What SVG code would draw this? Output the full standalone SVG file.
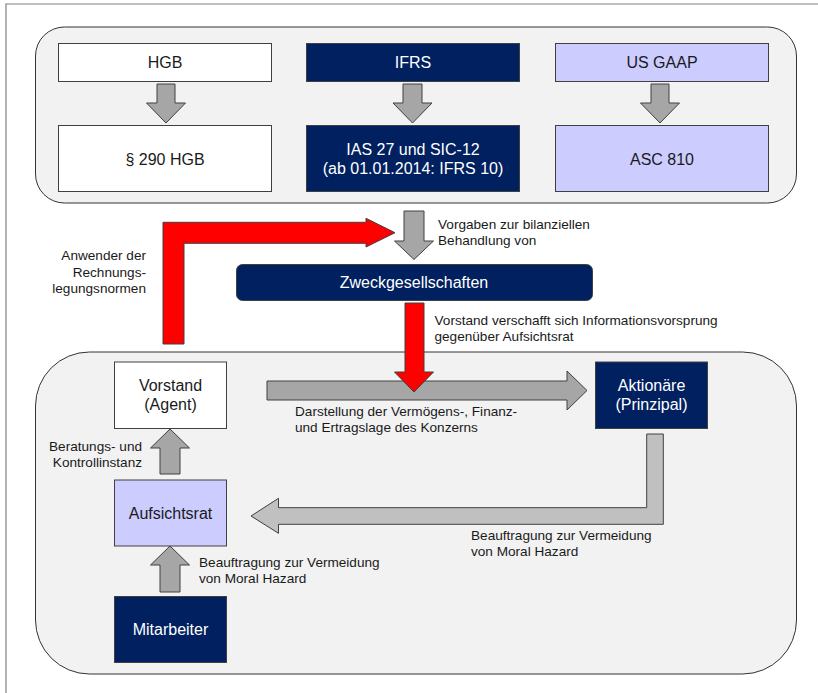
<svg xmlns="http://www.w3.org/2000/svg" width="818" height="693" viewBox="0 0 818 693">
<style>
  .frame{fill:none;stroke:#808080;stroke-width:1.2}
  .cont{fill:#f2f2f2;stroke:#333;stroke-width:1}
  .box{stroke:#404040;stroke-width:1}
  .white{fill:#ffffff}
  .navy{fill:#002060}
  .lav{fill:#ccccff}
  .t{font-family:"Liberation Sans",Arial,sans-serif;font-size:16px;fill:#1a1a1a;text-anchor:middle}
  .tw{fill:#ffffff}
  .lbl{font-family:"Liberation Sans",Arial,sans-serif;font-size:13.6px;fill:#1a1a1a}
  .gray{fill:#a6a6a6;stroke:#404040;stroke-width:1}
  .lgray{fill:#c0c0c0;stroke:#404040;stroke-width:1}
  .red{fill:#ff0000;stroke:#404040;stroke-width:1}
</style>
<rect width="818" height="693" fill="#ffffff"/>
<path class="frame" d="M6,693 V4 H818"/>

<g id="containers">
  <rect class="cont" x="35.5" y="27" width="761" height="176" rx="29" ry="29"/>
  <rect class="cont" x="35.5" y="352" width="761" height="322" rx="54" ry="54"/>
</g>

<g id="connectors">
  <polygon class="gray" points="157,84 175,84 175,103 185.5,103 166,123 146.5,103 157,103"/>
  <polygon class="gray" points="403,84 422,84 422,103 432,103 412.5,123 393,103 403,103"/>
  <polygon class="gray" points="651,84 669,84 669,103 679.5,103 660,123 640.5,103 651,103"/>
  <polygon class="gray" points="404,211 424,211 424,241 433.5,241 414,259.5 394.5,241 404,241"/>
  <path class="red" d="M163,344 V222.3 H366 V218.3 L395,232.7 L366,247 V243.3 H184 V344 Z"/>
  <polygon class="gray" points="267,381 567,381 567,371 587,390.5 567,410 567,400 267,400"/>
  <polygon class="red" points="405,303 424,303 424,372 433.5,372 414,392 394.5,372 405,372"/>
  <polygon class="gray" points="160,474 160,448 150.5,448 170,429 189.5,448 180,448 180,474"/>
  <polygon class="gray" points="160,592 160,565 150.5,565 170,546 189.5,565 180,565 180,592"/>
  <path class="lgray" d="M646.7,434 H663.3 V524.3 H278.5 V533.3 L251,516 L278.5,498.3 V507.7 H646.7 Z"/>
</g>

<g id="hgb">
  <rect class="box white" x="58.5" y="43.5" width="213" height="38"/>
  <text class="t" x="165" y="68">HGB</text>
</g>
<g id="ifrs">
  <rect class="box navy" x="306.5" y="43.5" width="213" height="38"/>
  <text class="t tw" x="413" y="68">IFRS</text>
</g>
<g id="usgaap">
  <rect class="box lav" x="555.5" y="43.5" width="213" height="38"/>
  <text class="t" x="662" y="68">US GAAP</text>
</g>
<g id="hgb290">
  <rect class="box white" x="58.5" y="125.5" width="213" height="66"/>
  <text class="t" x="165" y="164.5">§ 290 HGB</text>
</g>
<g id="ias27">
  <rect class="box navy" x="306.5" y="125.5" width="213" height="66"/>
  <text class="t tw" x="413" y="155">IAS 27 und SIC-12</text>
  <text class="t tw" x="413" y="174">(ab 01.01.2014: IFRS 10)</text>
</g>
<g id="asc810">
  <rect class="box lav" x="555.5" y="125.5" width="213" height="66"/>
  <text class="t" x="662" y="164.5">ASC 810</text>
</g>

<g id="zweck">
  <rect class="box navy" x="236.5" y="264.5" width="356" height="36" rx="6" ry="6"/>
  <text class="t tw" x="414" y="288">Zweckgesellschaften</text>
</g>

<g id="vorstand">
  <rect class="box white" x="114.5" y="362" width="112" height="66.5"/>
  <text class="t" x="170.5" y="391">Vorstand</text>
  <text class="t" x="170.5" y="410">(Agent)</text>
</g>
<g id="aktionaere">
  <rect class="box navy" x="595.5" y="362" width="112" height="66.5"/>
  <text class="t tw" x="651.5" y="391">Aktionäre</text>
  <text class="t tw" x="651.5" y="410">(Prinzipal)</text>
</g>
<g id="aufsichtsrat">
  <rect class="box lav" x="114.5" y="480" width="112" height="66"/>
  <text class="t" x="170.5" y="518.5">Aufsichtsrat</text>
</g>
<g id="mitarbeiter">
  <rect class="box navy" x="114.5" y="596.5" width="112" height="66"/>
  <text class="t tw" x="170.5" y="635">Mitarbeiter</text>
</g>

<g id="labels">
  <text class="lbl" x="146" y="260" text-anchor="end">Anwender der</text>
  <text class="lbl" x="146" y="276.5" text-anchor="end">Rechnungs-</text>
  <text class="lbl" x="146" y="292.5" text-anchor="end">legungsnormen</text>
  <text class="lbl" x="438" y="228.5">Vorgaben zur bilanziellen</text>
  <text class="lbl" x="438" y="244.5">Behandlung von</text>
  <text class="lbl" x="434.5" y="325">Vorstand verschafft sich Informationsvorsprung</text>
  <text class="lbl" x="434.5" y="341">gegenüber Aufsichtsrat</text>
  <text class="lbl" x="295" y="416">Darstellung der Vermögens-, Finanz-</text>
  <text class="lbl" x="295" y="432">und Ertragslage des Konzerns</text>
  <text class="lbl" x="142" y="451" text-anchor="end">Beratungs- und</text>
  <text class="lbl" x="142" y="467" text-anchor="end">Kontrollinstanz</text>
  <text class="lbl" x="199" y="567">Beauftragung zur Vermeidung</text>
  <text class="lbl" x="199" y="583">von Moral Hazard</text>
  <text class="lbl" x="471" y="540">Beauftragung zur Vermeidung</text>
  <text class="lbl" x="471" y="556">von Moral Hazard</text>
</g>
</svg>
